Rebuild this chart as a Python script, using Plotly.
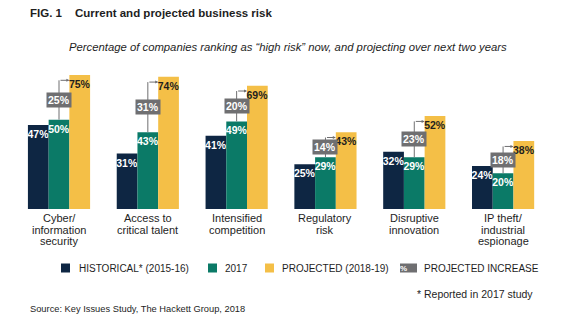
import plotly.graph_objects as go

# Risk categories and survey results (% of companies ranking risk as "high")
categories = [
    "Cyber/<br>information<br>security",
    "Access to<br>critical talent",
    "Intensified<br>competition",
    "Regulatory<br>risk",
    "Disruptive<br>innovation",
    "IP theft/<br>industrial<br>espionage",
]
historical = [47, 31, 41, 25, 32, 24]
current_2017 = [50, 43, 49, 29, 29, 20]
projected = [75, 74, 69, 43, 52, 38]
increase = [25, 31, 20, 14, 23, 18]

series_names = ["HISTORICAL* (2015-16)", "2017", "PROJECTED (2018-19)"]

NAVY = "#0e2643"
TEAL = "#0b7a67"
YELLOW = "#f4bf47"
GREY = "#6f6f71"
TEXT = "#1e1e1e"
FONT = "Liberation Sans"

W, H = 572, 324
BARGAP = 0.30
N_SERIES = 3
bar_w = (1 - BARGAP) / N_SERIES
YMAX = 80

# plot area in pixels
left_px, right_px = 14.6, 547.5
base_px, top_px = 209.0, 66.0


def py(px):
    """pixel row -> paper y"""
    return 1 - px / H


idx = list(range(len(categories)))

fig = go.Figure()
for name, vals, col, tcol in [
    (series_names[0], historical, NAVY, "white"),
    (series_names[1], current_2017, TEAL, "white"),
    (series_names[2], projected, YELLOW, TEXT),
]:
    fig.add_trace(go.Bar(
        x=idx, y=vals, name=name, marker=dict(color=col, line=dict(width=0)),
        text=[f"{v}%" for v in vals], textposition="inside",
        insidetextanchor="end", constraintext="none", textangle=0,
        textfont=dict(family=FONT, size=10.5, color=tcol, weight="bold"),
        cliponaxis=False, showlegend=False, hoverinfo="skip",
    ))

annotations = []
shapes = []

# projected-increase connectors: up from the 2017 bar, across to the projected bar
for i, (c, p, inc) in enumerate(zip(current_2017, projected, increase)):
    level = p - 3
    shapes.append(dict(type="line", xref="x", yref="y", x0=i, x1=i, y0=c, y1=level,
                       line=dict(color=GREY, width=1)))
    annotations.append(dict(
        xref="x", yref="y", x=i + bar_w / 2, y=level,
        axref="x", ayref="y", ax=i, ay=level, text="", showarrow=True,
        arrowhead=2, arrowsize=0.6, arrowwidth=1, arrowcolor=GREY, standoff=0,
    ))
    annotations.append(dict(
        xref="x", yref="y", x=i, y=(c + level) / 2, text=f"{inc}%",
        showarrow=False, bgcolor=GREY, borderpad=1,
        font=dict(family=FONT, size=10.5, color="white", weight="bold"),
    ))

# category labels (tight line spacing)
for i, cat in enumerate(categories):
    for k, line in enumerate(cat.split("<br>")):
        annotations.append(dict(
            xref="x", yref="paper", x=i, y=py(218 + 11.5 * k), text=line,
            showarrow=False, yanchor="middle",
            font=dict(family=FONT, size=11, color=TEXT),
        ))

# title and subtitle
annotations += [
    dict(xref="paper", yref="paper", x=28 / W, y=py(13), xanchor="left", yanchor="middle",
         text="<b>FIG. 1</b>", showarrow=False, font=dict(family=FONT, size=11.5, color=TEXT)),
    dict(xref="paper", yref="paper", x=73 / W, y=py(13), xanchor="left", yanchor="middle",
         text="<b>Current and projected business risk</b>", showarrow=False,
         font=dict(family=FONT, size=11.5, color=TEXT)),
    dict(xref="paper", yref="paper", x=288 / W, y=py(47), xanchor="center", yanchor="middle",
         text="<i>Percentage of companies ranking as “high risk” now, and projecting over next two years</i>",
         showarrow=False, font=dict(family=FONT, size=11.3, color=TEXT)),
]

# legend
legend_y = 268
legend_items = [
    (61, NAVY, 77, series_names[0], ""),
    (208, TEAL, 223, series_names[1], ""),
    (265, YELLOW, 280, series_names[2], ""),
    (400, GREY, 422, "PROJECTED INCREASE", "%"),
]
for sx, col, tx, label, glyph in legend_items:
    sw = 17 if glyph else 9
    shapes.append(dict(type="rect", xref="paper", yref="paper",
                       x0=sx / W, x1=(sx + sw) / W, y0=py(legend_y + 4.5), y1=py(legend_y - 4.5),
                       fillcolor=col, line=dict(width=0)))
    if glyph:
        annotations.append(dict(xref="paper", yref="paper", x=(sx + sw / 2) / W, y=py(legend_y),
                                text=f"<b>{glyph}</b>", showarrow=False, yanchor="middle",
                                font=dict(family=FONT, size=8, color="white")))
    annotations.append(dict(xref="paper", yref="paper", x=tx / W, y=py(legend_y),
                            xanchor="left", yanchor="middle", text=label, showarrow=False,
                            font=dict(family=FONT, size=10, color=TEXT)))

annotations += [
    dict(xref="paper", yref="paper", x=535 / W, y=py(294), xanchor="right", yanchor="middle",
         text="* Reported in 2017 study", showarrow=False,
         font=dict(family=FONT, size=10.5, color=TEXT)),
    dict(xref="paper", yref="paper", x=28 / W, y=py(309), xanchor="left", yanchor="middle",
         text="Source: Key Issues Study, The Hackett Group, 2018", showarrow=False,
         font=dict(family=FONT, size=9.3, color=TEXT)),
]

fig.update_layout(
    width=W, height=H, margin=dict(l=0, r=0, t=0, b=0),
    paper_bgcolor="white", plot_bgcolor="white",
    barmode="group", bargap=BARGAP, bargroupgap=0,
    xaxis=dict(domain=[left_px / W, right_px / W], range=[-0.5, len(categories) - 0.5],
               showticklabels=False, showgrid=False, zeroline=False, showline=False,
               fixedrange=True),
    yaxis=dict(domain=[py(base_px), py(top_px)], range=[0, YMAX],
               showticklabels=False, showgrid=False, zeroline=False, showline=False,
               fixedrange=True),
    shapes=shapes, annotations=annotations, showlegend=False,
)

fig.write_html("out.html")
